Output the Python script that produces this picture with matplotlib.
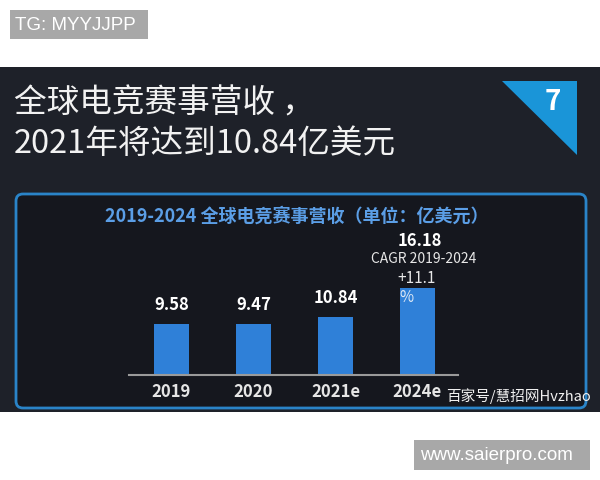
import matplotlib
matplotlib.use("Agg")
import matplotlib.pyplot as plt
from matplotlib.patches import Rectangle, FancyBboxPatch, Polygon

plt.rcParams['font.family'] = ['Noto Sans CJK SC', 'DejaVu Sans']

# データ
years = ['2019', '2020', '2021e', '2024e']
revenue = [9.58, 9.47, 10.84, 16.18]
value_labels = ['9.58', '9.47', '10.84', '16.18']

title_1 = '全球电竞赛事营收 ，'
title_2 = '2021年将达到10.84亿美元'
subtitle = '2019-2024 全球电竞赛事营收（单位：亿美元）'
cagr_label = 'CAGR 2019-2024'
cagr_value = '+11.1'
page_no = '7'

fig = plt.figure(figsize=(6, 4.8), dpi=100)
fig.patch.set_facecolor('white')

# 背景（ピクセル座標）
bg = fig.add_axes([0, 0, 1, 1])
bg.set_xlim(0, 600)
bg.set_ylim(480, 0)
bg.set_axis_off()

bg.add_patch(Rectangle((10, 10), 138, 29, color='#a8a8a8', lw=0))
bg.text(15, 25, 'TG: MYYJJPP', color='white', fontsize=13.5,
        family='Liberation Sans', va='center', ha='left')

bg.add_patch(Rectangle((0, 67), 600, 345, color='#1e2129', lw=0))
bg.add_patch(Polygon([(502, 81), (577, 81), (577, 155)], closed=True,
                     color='#1a95d8', lw=0))
bg.text(553, 102, page_no, color='white', fontsize=20, fontweight='bold',
        ha='center', va='center')

bg.text(14, 103, title_1, color='#f2f2f2', fontsize=23.5, ha='left', va='center')
bg.text(14, 144, title_2, color='#f2f2f2', fontsize=23.5, ha='left', va='center')

bg.add_patch(FancyBboxPatch((16, 194), 570, 214,
                            boxstyle='round,pad=0,rounding_size=7',
                            facecolor='#15171e', edgecolor='#2a84c8', lw=2))
bg.text(297, 216, subtitle, color='#5b9ee6', fontsize=13,
        fontweight='bold', ha='center', va='center')

bg.text(446, 396, '百家号/慧招网Hvzhao', color='#f0f0f0', fontsize=10.5,
        ha='left', va='center')

bg.add_patch(Rectangle((414, 440), 176, 30, color='#a8a8a8', lw=0))
bg.text(420, 455, 'www.saierpro.com', color='white', fontsize=13.5,
        family='Liberation Sans', ha='left', va='center')

# 棒グラフ
ax = fig.add_axes([129 / 600, 105 / 480, 329 / 600, 145 / 480])
ax.patch.set_visible(False)
x = list(range(len(years)))
bars = ax.bar(x, revenue, width=0.43, color='#2f80d8')
ax.set_xlim(-0.518, 3.494)
ax.set_ylim(0, 145 / 5.35)
for s in ['top', 'right', 'left']:
    ax.spines[s].set_visible(False)
ax.spines['bottom'].set_color('#9a9a9a')
ax.spines['bottom'].set_linewidth(1.5)
ax.set_yticks([])
ax.set_xticks(x)
ax.set_xticklabels(years, color='#e6e6e6', fontsize=12, fontweight='bold')
ax.tick_params(axis='x', length=0, pad=6)

for i in range(3):
    ax.annotate(value_labels[i], (x[i], revenue[i]), xytext=(0, 19),
                textcoords='offset pixels', ha='center', va='center',
                color='white', fontsize=12, fontweight='bold')

ax.annotate(value_labels[3], (x[3], revenue[3]), xytext=(2, 47),
            textcoords='offset pixels', ha='center', va='center',
            color='white', fontsize=12, fontweight='bold')
ax.annotate(cagr_label, (x[3], revenue[3]), xytext=(6, 29),
            textcoords='offset pixels', ha='center', va='center',
            color='#e8e8e8', fontsize=10)
ax.annotate(cagr_value, (x[3], revenue[3]), xytext=(-1, 10),
            textcoords='offset pixels', ha='center', va='center',
            color='#e8e8e8', fontsize=11)
ax.annotate('%', (x[3], revenue[3]), xytext=(-11, -9),
            textcoords='offset pixels', ha='center', va='center',
            color='#dde8f5', fontsize=11)

fig.savefig('out.png', dpi=100)
